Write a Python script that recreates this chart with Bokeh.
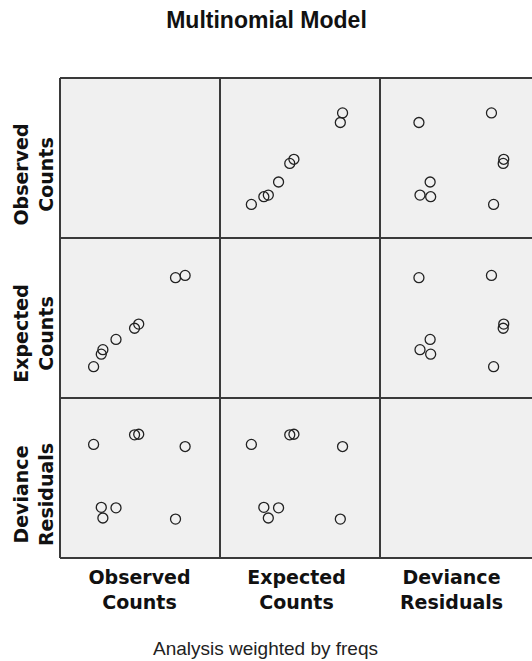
import math
from bokeh.plotting import figure
from bokeh.models import Range1d, ColumnDataSource
from bokeh.embed import file_html
from bokeh.resources import INLINE
from bokeh.core.properties import value

# ---------------- data ----------------
title_text = "Multinomial Model"
footnote_text = "Analysis weighted by freqs"
var_keys = ["obs", "exp", "dev"]
var_labels = ["Observed\nCounts", "Expected\nCounts", "Deviance\nResiduals"]

observed_counts = [10.5, 12.9, 13.4, 17.5, 23.3, 24.6, 36.1, 39.1]
expected_counts = [9.8, 13.7, 15.1, 18.3, 21.8, 23.1, 37.6, 38.3]
deviance_residuals = [0.63, -0.55, -0.75, -0.56, 0.81, 0.82, -0.77, 0.59]

series = {"obs": observed_counts, "exp": expected_counts, "dev": deviance_residuals}
cell_limits = {"obs": (0.0, 50.0), "exp": (0.0, 50.0), "dev": (-1.5, 1.5)}

# ---------------- layout (cell units: one cell = 1 x 1) ----------------
W, H = 532, 661
CELL = 160.0
GX, GY = 59.5, 557.5          # page position of the grid's lower-left corner
U0, U1 = -GX / CELL, (W - GX) / CELL
V0, V1 = (GY - H) / CELL, GY / CELL

p = figure(width=W, height=H, x_range=Range1d(U0, U1), y_range=Range1d(V0, V1),
           output_backend="svg", toolbar_location=None, min_border=0,
           x_axis_type=None, y_axis_type=None)
p.outline_line_color = None
p.background_fill_color = "white"
p.border_fill_color = "white"

# panel background
p.quad(left=[0], right=[3], bottom=[0], top=[3], fill_color="#f0f0f0", line_color=None)

# grid lines
xs, ys = [], []
for i in range(4):
    xs.append([i, i]); ys.append([0, 3])
    xs.append([0, 3]); ys.append([i, i])
p.multi_line(xs, ys, line_color="#3a3a3a", line_width=2)

# per-variable scales placed in cells
n = len(var_keys)
for j, k in enumerate(var_keys):
    lo, hi = cell_limits[k]
    span = hi - lo
    p.extra_x_ranges["x_" + k] = Range1d(lo + (U0 - j) * span, lo + (U1 - j) * span)
    b = n - 1 - j
    p.extra_y_ranges["y_" + k] = Range1d(lo + (V0 - b) * span, lo + (V1 - b) * span)

for r, ky in enumerate(var_keys):
    for c, kx in enumerate(var_keys):
        if r == c:
            continue
        src = ColumnDataSource(dict(x=series[kx], y=series[ky]))
        p.scatter("x", "y", source=src, marker="circle", size=10,
                  fill_color=None, line_color="#222222", line_width=1.3,
                  x_range_name="x_" + kx, y_range_name="y_" + ky)

def px(xp):
    return (xp - GX) / CELL

def py(yp):
    return (GY - yp) / CELL

# column labels
p.text(x=[px(139), px(296), px(451)], y=[py(589)] * 3, text=var_labels,
       text_font=value("DejaVu Sans"), text_font_style="bold", text_font_size="19px",
       text_align="center", text_baseline="middle", text_line_height=1.1, text_color="#111111")

# row labels (rotated)
p.text(x=[px(33)] * 3, y=[py(174), py(333), py(494)], text=var_labels, angle=math.pi / 2,
       text_font=value("DejaVu Sans"), text_font_style="bold", text_font_size="19px",
       text_align="center", text_baseline="middle", text_line_height=1.1, text_color="#111111")

# title
p.text(x=[px(266)], y=[py(19)], text=[title_text],
       text_font=value("Liberation Sans"), text_font_style="bold", text_font_size="23px",
       text_align="center", text_baseline="middle", text_color="#111111")

# footnote
p.text(x=[px(265)], y=[py(648)], text=[footnote_text],
       text_font=value("Liberation Sans"), text_font_size="19px",
       text_align="center", text_baseline="middle", text_color="#222222")

open("out.html", "w").write(file_html(p, INLINE))
